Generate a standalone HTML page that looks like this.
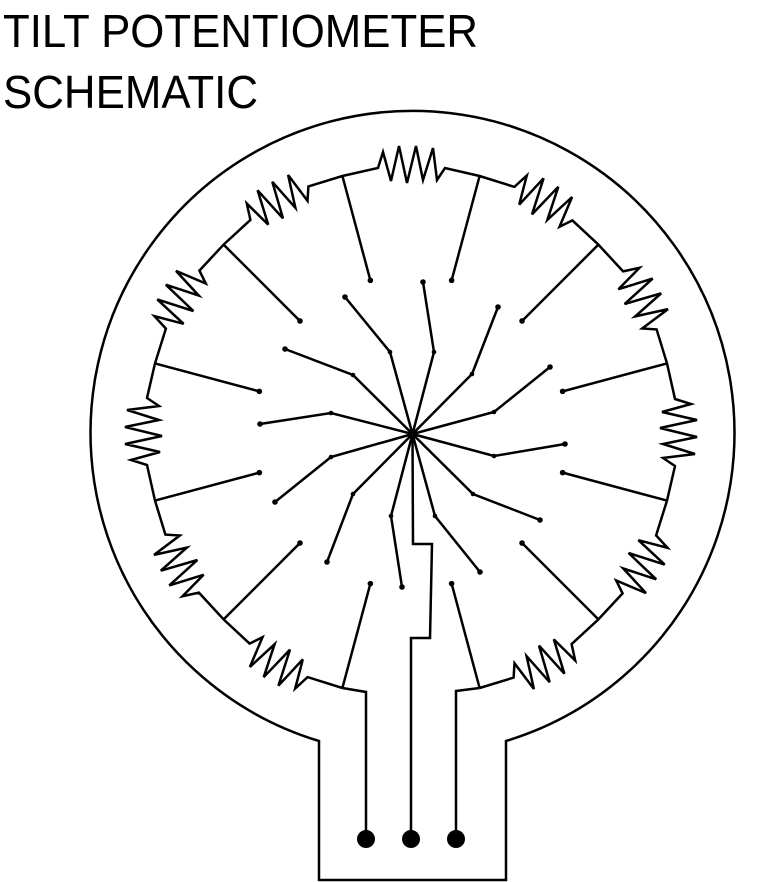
<!DOCTYPE html>
<html><head><meta charset="utf-8"><style>
html,body{margin:0;padding:0;background:#fff;}
svg{display:block;}
text{font-family:"Liberation Sans",sans-serif;fill:#000;}
</style></head><body>
<svg id="s" width="768" height="882" viewBox="0 0 768 882">
<text x="3" y="47" font-size="46" textLength="475" lengthAdjust="spacingAndGlyphs">TILT POTENTIOMETER</text>
<text x="3" y="108" font-size="46" textLength="255" lengthAdjust="spacingAndGlyphs">SCHEMATIC</text>
<path d="M319,880 V741 A322,322 0 1 1 506,741 V880 Z" fill="none" stroke="#000" stroke-width="2.5"/>
<g id="g" fill="none" stroke="#000" stroke-width="2.5" stroke-linejoin="miter"></g>
</svg>
<script>
// contact angles (degrees clockwise from up)
const contactAngles=[15,45,75,105,135,165,195,225,255,285,315,345];
// resistor positions (gap centres) — none at 180
const resistorAngles=[0,30,60,90,120,150,210,240,270,300,330];
// wiper end/bend points
const wiperEnds=[[345,297],[423,282],[498,307],[550,367],[565,444],[540,520],[480,572],[402,587],[327,562],[275,502],[260,424],[285,349]];
const wiperBends=[[390,352],[434,352],[472,374],[494,412],[494,456],[473,494],[435,516],[391,516],[353,494],[331,457],[331,413],[353,375]];
const terminalX=[366,411,456];

const cx=411,cy=432,R=265,Rin=157,hub=[412.5,434];
const g=document.getElementById('g');
const NS='http://www.w3.org/2000/svg';
function pt(a,r){const t=a*Math.PI/180;return [cx+r*Math.sin(t),cy-r*Math.cos(t)];}
function mk(tag,attrs){const e=document.createElementNS(NS,tag);for(const k in attrs)e.setAttribute(k,attrs[k]);g.appendChild(e);return e;}
// resistor zigzag local profile [tangent offset, radial offset]
const zz=[[-33,0],[-28,16],[-20,-13],[-12,22],[-4,-15],[5,22],[12,-12],[22,20],[26,-12],[34,0]];
function resistorPts(a){
  const t=a*Math.PI/180, ux=Math.cos(t), uy=Math.sin(t), nx=Math.sin(t), ny=-Math.cos(t);
  const c=pt(a,R-1);
  return zz.map(([s,n])=>[c[0]+s*ux+n*nx,c[1]+s*uy+n*ny]);
}
// ring: from contact 165 going counterclockwise round the top to 195
let d='';
const order=[195,225,255,285,315,345,375,405,435,465,495,525];
order.forEach((a,i)=>{
  const p=pt(a,R);
  d+=(i===0?'M':'L')+p[0].toFixed(1)+','+p[1].toFixed(1)+' ';
  if(i<order.length-1){
    resistorPts(a+15).forEach(q=>{d+='L'+q[0].toFixed(1)+','+q[1].toFixed(1)+' ';});
  }
});
const ring=mk('path',{d:d});


// bottom leads
const pl=pt(195,R), pr=pt(165,R);
const leadL=mk('path',{d:`M${pl[0]},${pl[1]} L${terminalX[0]},${pl[1]+4} V839`});


const leadR=mk('path',{d:`M${pr[0]},${pr[1]} L${terminalX[2]},${pr[1]+3} V839`});


const leadC=mk('path',{d:`M${hub[0]},${hub[1]} L413,544 H432 L430,638 H${terminalX[1]} V839`});


// contacts
contactAngles.forEach(a=>{
  const p1=pt(a,R),p2=pt(a,Rin);
  const l=mk('line',{x1:p1[0],y1:p1[1],x2:p2[0],y2:p2[1]});
  
  
  const c=mk('circle',{cx:p2[0],cy:p2[1],r:2.8,fill:'#000',stroke:'none'});
  
  
});
// wipers
wiperEnds.forEach((e,i)=>{
  const b=wiperBends[i];
  const p=mk('polyline',{points:`${hub[0]},${hub[1]} ${b[0]},${b[1]} ${e[0]},${e[1]}`});
  
  
  const c=mk('circle',{cx:e[0],cy:e[1],r:2.8,fill:'#000',stroke:'none'});
  
  
  const c2=mk('circle',{cx:b[0],cy:b[1],r:2.3,fill:'#000',stroke:'none'});
  
  
});
// terminals
terminalX.forEach(x=>{
  const c=mk('circle',{cx:x,cy:839,r:9,fill:'#000',stroke:'none'});
  
  
});
</script>
</body></html>
